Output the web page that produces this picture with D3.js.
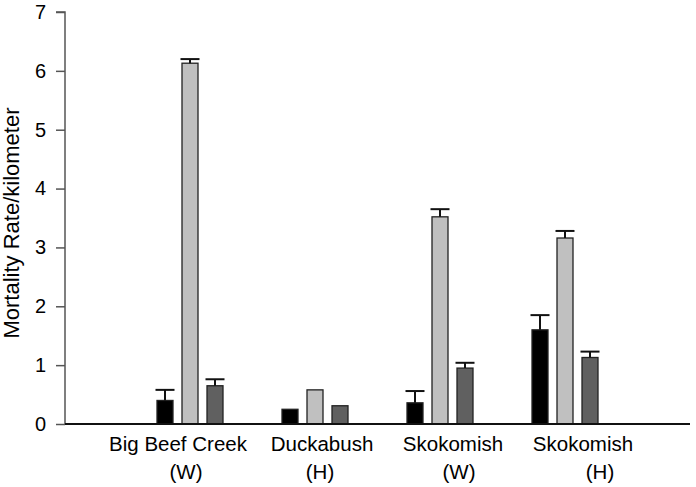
<!DOCTYPE html>
<html>
<head>
<meta charset="utf-8">
<script src="https://cdn.jsdelivr.net/npm/d3@7"></script>
<style>
body { margin: 0; background: #fff; }
text { font-family: Arial, "Liberation Sans", sans-serif; fill: #000; }
</style>
</head>
<body>
<div id="barchart"></div>
<script>
// categories and series
var groups = ["Big Beef Creek (W)", "Duckabush (H)", "Skokomish (W)", "Skokomish (H)"];
var line1 = ["Big Beef Creek", "Duckabush", "Skokomish", "Skokomish"];
var line2 = ["(W)", "(H)", "(W)", "(H)"];
var series = ["s1", "s2", "s3"];
var s1 = [0.40, 0.25, 0.36, 1.60];
var s2 = [6.13, 0.58, 3.52, 3.16];
var s3 = [0.65, 0.31, 0.95, 1.13];
// upper error (top of whisker), null = no error bar
var e1 = [0.58, null, 0.56, 1.85];
var e2 = [6.20, null, 3.65, 3.28];
var e3 = [0.76, null, 1.04, 1.23];
var yTicks = [0, 1, 2, 3, 4, 5, 6, 7];

var colors = ["#000000", "#c0c0c0", "#606060"];
// label nudges (px) to follow the original layout
var shift1 = [-12, 7, 13, 18];
var shift2 = [-4, 5, 19, 35];

var vals = [s1, s2, s3], errs = [e1, e2, e3];
var data = [];
groups.forEach(function(g, i) {
  series.forEach(function(s, j) {
    data.push({group: g, series: s, value: vals[j][i], err: errs[j][i], color: colors[j]});
  });
});

var margin = {top: 12, right: 6, bottom: 63, left: 65},
    width = 696 - margin.left - margin.right,
    height = 487 - margin.top - margin.bottom;

var svg = d3.select("#barchart").append("svg")
  .attr("width", 696)
  .attr("height", 487)
  .append("g")
  .attr("transform", "translate(" + margin.left + "," + margin.top + ")");

var y = d3.scaleLinear().domain([0, 7]).range([height, 0]);

var x0 = d3.scaleBand().domain(groups).range([62.5, 562.5]);
var x1 = d3.scaleBand().domain(series).range([29.5, 95.5])
  .paddingInner(0.36).paddingOuter(0);

// bars
svg.selectAll(".bar")
  .data(data)
  .enter().append("rect")
  .attr("class", "bar")
  .attr("x", function(d) { return x0(d.group) + x1(d.series); })
  .attr("y", function(d) { return y(d.value); })
  .attr("width", x1.bandwidth())
  .attr("height", function(d) { return y(0) - y(d.value); })
  .attr("fill", function(d) { return d.color; })
  .attr("stroke", "#222")
  .attr("stroke-width", 1.3);

// error bars (upper only)
var eb = svg.selectAll(".err")
  .data(data.filter(function(d) { return d.err != null; }))
  .enter().append("g").attr("class", "err")
  .attr("stroke", "#111").attr("stroke-width", 2);
eb.append("line")
  .attr("x1", function(d) { return x0(d.group) + x1(d.series) + x1.bandwidth() / 2; })
  .attr("x2", function(d) { return x0(d.group) + x1(d.series) + x1.bandwidth() / 2; })
  .attr("y1", function(d) { return y(d.value); })
  .attr("y2", function(d) { return y(d.err); });
eb.append("line")
  .attr("x1", function(d) { return x0(d.group) + x1(d.series) - 1.5; })
  .attr("x2", function(d) { return x0(d.group) + x1(d.series) + x1.bandwidth() + 1.5; })
  .attr("y1", function(d) { return y(d.err); })
  .attr("y2", function(d) { return y(d.err); });

// y axis
var yAxis = svg.append("g")
  .call(d3.axisLeft(y).tickValues(yTicks).tickSize(9).tickPadding(10).tickFormat(d3.format("d")));
yAxis.select(".domain").attr("stroke", "#555").attr("stroke-width", 1.5).attr("d", "M0," + height + "V0H-9");
yAxis.selectAll(".tick line").attr("stroke", "#555").attr("stroke-width", 1.5);
yAxis.selectAll(".tick text").style("font-size", "20px").attr("fill", "#000");

// x axis line
svg.append("line")
  .attr("x1", 0).attr("x2", width)
  .attr("y1", y(0)).attr("y2", y(0))
  .attr("stroke", "#111").attr("stroke-width", 1.8);

// category labels
groups.forEach(function(g, i) {
  var cx = x0(g) + x0.bandwidth() / 2;
  svg.append("text")
    .attr("x", cx + shift1[i]).attr("y", height + 27)
    .attr("text-anchor", "middle")
    .style("font-size", "20.5px")
    .text(line1[i]);
  svg.append("text")
    .attr("x", cx + shift2[i]).attr("y", height + 55)
    .attr("text-anchor", "middle")
    .style("font-size", "20.5px")
    .text(line2[i]);
});

// y title
svg.append("text")
  .attr("transform", "translate(" + (-46) + "," + 211 + ") rotate(-90)")
  .attr("text-anchor", "middle")
  .style("font-size", "22px")
  .text("Mortality Rate/kilometer");
</script>
</body>
</html>
